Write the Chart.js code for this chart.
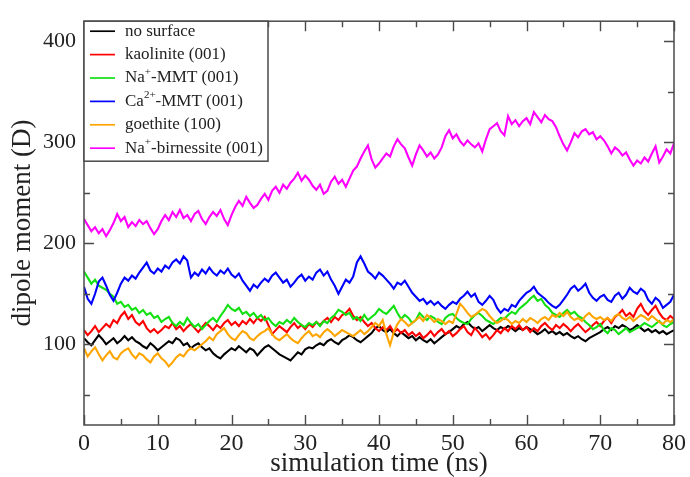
<!DOCTYPE html>
<html>
<head>
<meta charset="utf-8">
<script src="https://cdn.jsdelivr.net/npm/chart.js@4/dist/chart.umd.min.js"></script>
<style>
html,body{margin:0;padding:0;background:#fff;}
#wrap{width:690px;height:477px;position:relative;}
</style>
</head>
<body>
<div id="wrap"><canvas id="c" width="690" height="477"></canvas></div>
<script>
// ---- data (dipole moment in D, sampled every 0.5 ns from 0 to 80 ns) ----
const timeStep = 0.5;
const seriesLabels = ['no surface', 'kaolinite (001)', 'Na^{+}-MMT (001)', 'Ca^{2+}-MMT (001)', 'goethite (100)', 'Na^{+}-birnessite (001)'];
const seriesColors = ['#000000', '#ff0000', '#11e011', '#0000ff', '#ffa500', '#ff00ff'];
const xTicks = [0, 10, 20, 30, 40, 50, 60, 70, 80];
const xMinorTicks = [5, 15, 25, 35, 45, 55, 65, 75];
const yTicks = [100, 200, 300, 400];
const yMinorTicks = [50, 150, 250, 350];

const noSurface = [106,102,99,104,109,105,100,103,106,101,104,108,104,107,103,101,98,96,101,98,94,97,100,103,101,106,104,99,101,96,99,101,97,94,96,91,88,86,90,93,96,94,98,95,92,96,94,89,93,97,99,96,93,90,88,86,84,88,92,90,95,97,96,99,101,99,103,105,102,100,104,106,109,107,104,102,105,108,111,116,118,114,112,115,111,108,112,109,106,108,104,107,104,102,105,101,104,107,110,112,115,118,116,120,122,118,115,117,113,116,119,116,114,117,115,118,116,113,116,114,117,115,113,110,112,115,111,113,110,112,109,111,108,106,108,105,103,106,108,110,112,115,117,114,118,116,119,117,114,116,119,116,113,115,112,114,111,113,110,112,114];
const kaolinite = [114,109,113,118,112,116,120,117,124,121,128,132,125,129,122,119,123,116,112,115,111,114,118,116,121,115,118,113,117,120,116,112,117,121,118,114,119,116,121,124,119,122,118,123,120,125,121,126,123,127,119,110,114,118,115,112,117,121,116,119,115,120,117,122,119,123,126,122,127,124,129,131,135,128,124,127,122,118,121,116,113,117,114,118,112,115,111,114,109,112,108,111,106,109,113,108,112,115,110,113,108,111,115,118,112,109,116,112,107,110,105,109,114,111,116,113,118,115,119,114,117,112,116,113,118,121,117,114,119,116,120,117,113,117,120,116,112,115,119,122,118,123,126,121,127,130,134,128,131,127,135,140,133,129,134,138,131,126,124,128,125];
const naMMT = [172,166,160,164,158,156,154,150,147,140,142,137,139,134,136,131,134,129,131,126,128,122,125,127,121,118,122,119,126,121,117,120,115,119,123,126,122,128,133,139,135,133,136,130,132,128,131,126,129,124,126,121,118,122,120,124,121,126,122,119,117,121,119,122,118,123,121,126,129,134,132,129,131,125,127,123,129,124,127,130,135,132,130,134,138,131,125,129,126,121,124,131,127,124,128,126,122,120,126,129,130,126,123,121,120,125,129,131,128,124,122,120,123,126,125,129,132,130,135,138,141,145,148,143,145,139,136,131,129,127,131,134,130,132,128,126,122,119,115,117,120,114,111,116,114,110,113,116,112,114,116,118,121,119,117,120,123,119,117,120,122];
const caMMT = [157,145,140,150,162,166,158,149,143,151,160,166,163,168,165,171,176,181,173,170,175,172,178,175,181,184,180,187,183,166,171,168,174,170,176,171,168,173,170,175,169,166,170,163,158,153,159,156,161,165,162,168,171,166,161,164,157,161,166,169,163,167,164,171,174,168,172,164,158,150,157,164,161,167,181,187,180,172,169,165,171,168,164,160,155,161,159,163,157,151,147,143,145,140,143,139,142,138,135,139,142,140,145,148,152,147,150,142,139,143,148,144,136,131,135,133,139,137,143,147,151,153,157,151,148,145,141,138,136,139,144,149,155,158,153,156,160,151,146,143,147,149,144,142,148,151,145,149,156,152,150,155,152,144,140,146,143,136,139,142,149];
const goethite = [96,88,93,97,90,84,89,93,87,85,91,94,96,90,86,91,89,85,82,88,91,86,83,78,82,87,90,88,93,96,94,97,100,103,107,104,110,113,116,110,106,104,109,113,111,106,104,108,111,113,116,110,106,104,107,110,106,103,101,106,110,113,108,110,107,112,115,112,108,111,114,112,110,108,111,114,110,113,117,121,118,124,110,99,112,120,125,122,118,121,124,127,123,129,126,122,125,123,120,123,121,130,140,136,131,127,129,132,135,133,128,124,121,123,126,124,120,123,121,125,122,126,124,121,125,127,124,129,127,131,128,132,127,124,126,123,128,131,127,125,127,124,126,123,128,130,126,124,127,123,126,129,127,124,128,125,122,120,124,122,125];
const naBirnessite = [224,218,212,216,210,214,207,213,220,229,222,226,216,221,217,223,219,222,215,209,214,222,228,223,231,226,233,225,228,222,229,232,224,219,226,231,227,233,224,218,228,236,242,237,246,240,235,238,244,249,243,252,256,250,258,254,260,264,270,262,267,263,257,253,258,249,252,261,266,259,263,256,264,272,276,284,291,297,283,275,279,284,289,286,296,303,298,294,285,277,288,297,292,286,290,284,288,295,306,312,304,308,301,297,302,298,295,299,291,303,313,316,319,311,307,326,318,322,316,321,324,318,330,325,320,327,323,321,315,306,298,292,300,309,305,311,313,308,310,303,306,302,296,289,295,292,287,290,283,277,282,279,285,281,289,296,280,286,293,289,299];

const seriesValues = [noSurface, kaolinite, naMMT, caMMT, goethite, naBirnessite];

const FONT = "'Liberation Serif', 'Times New Roman', serif";
const AXIS_COLOR = '#4a4a4a';

function plainLabel(s) {
  return s.replace(/\^\{([^}]*)\}/g, (m, g) => g);
}

const datasets = seriesValues.map((vals, k) => ({
  label: plainLabel(seriesLabels[k]),
  data: vals.map((v, i) => ({ x: i * timeStep, y: v })),
  borderColor: seriesColors[k],
  backgroundColor: seriesColors[k],
  borderWidth: 2.1,
  pointRadius: 0,
  tension: 0,
  fill: false,
  order: seriesValues.length - k
}));

const framePlugin = {
  id: 'frameTicks',
  afterDatasetsDraw(chart) {
    const { ctx, chartArea: a, scales: { x, y } } = chart;
    ctx.save();
    ctx.strokeStyle = AXIS_COLOR;
    ctx.lineWidth = 1.5;
    ctx.strokeRect(a.left, a.top, a.right - a.left, a.bottom - a.top);
    ctx.beginPath();
    const xt = (vals, len) => vals.forEach(v => {
      const px = Math.round(x.getPixelForValue(v)) + 0.5;
      ctx.moveTo(px, a.bottom); ctx.lineTo(px, a.bottom - len);
      ctx.moveTo(px, a.top); ctx.lineTo(px, a.top + len);
    });
    const yt = (vals, len) => vals.forEach(v => {
      const py = Math.round(y.getPixelForValue(v)) + 0.5;
      ctx.moveTo(a.left, py); ctx.lineTo(a.left + len, py);
      ctx.moveTo(a.right, py); ctx.lineTo(a.right - len, py);
    });
    xt(xTicks, 10); xt(xMinorTicks, 6);
    yt(yTicks, 10); yt(yMinorTicks, 6);
    ctx.lineWidth = 1.4;
    ctx.strokeStyle = AXIS_COLOR;
    ctx.stroke();

    // legend
    const lx = a.left, ly = a.top, lw = 184, lh = 140;
    ctx.fillStyle = '#fff';
    ctx.fillRect(lx, ly, lw, lh);
    ctx.strokeStyle = AXIS_COLOR;
    ctx.lineWidth = 1.5;
    ctx.strokeRect(lx, ly, lw, lh);
    const fs = 17;
    chart.data.datasets.forEach((ds, k) => {
      const rowY = ly + 10 + k * 23.4;
      ctx.strokeStyle = ds.borderColor;
      ctx.lineWidth = 1.7;
      ctx.beginPath();
      ctx.moveTo(lx + 6, rowY); ctx.lineTo(lx + 31, rowY);
      ctx.stroke();
      ctx.fillStyle = '#222';
      ctx.textBaseline = 'middle';
      ctx.textAlign = 'left';
      let tx = lx + 41;
      const parts = seriesLabels[k].split(/(\^\{[^}]*\})/);
      parts.forEach(p => {
        if (!p) return;
        const m = p.match(/^\^\{([^}]*)\}$/);
        if (m) {
          ctx.font = `${Math.round(fs * 0.62)}px ${FONT}`;
          ctx.fillText(m[1], tx, rowY - 6);
          tx += ctx.measureText(m[1]).width;
        } else {
          ctx.font = `${fs}px ${FONT}`;
          ctx.fillText(p, tx, rowY);
          tx += ctx.measureText(p).width;
        }
      });
    });
    ctx.restore();
  }
};

new Chart(document.getElementById('c'), {
  type: 'line',
  data: { datasets },
  plugins: [framePlugin],
  options: {
    responsive: false,
    animation: false,
    events: [],
    layout: { padding: { left: 0, right: 13, top: 12, bottom: 0 } },
    plugins: { legend: { display: false }, tooltip: { enabled: false } },
    scales: {
      x: {
        type: 'linear', min: 0, max: 80,
        afterBuildTicks: s => { s.ticks = xTicks.map(v => ({ value: v })); },
        afterFit: s => { s.height = 52; },
        grid: { display: false, drawTicks: false },
        border: { display: false },
        ticks: { color: '#222', padding: 4, maxRotation: 0, font: { family: FONT, size: 24 } },
        title: { display: true, text: 'simulation time (ns)', color: '#222', padding: { top: 0, bottom: 0 }, font: { family: FONT, size: 27, lineHeight: 1 } }
      },
      y: {
        type: 'linear', min: 20, max: 420,
        afterBuildTicks: s => { s.ticks = yTicks.map(v => ({ value: v })); },
        afterFit: s => { s.width = 84; },
        grid: { display: false, drawTicks: false },
        border: { display: false },
        ticks: { color: '#222', padding: 8, font: { family: FONT, size: 22 } },
        title: { display: true, text: 'dipole moment (D)', color: '#222', padding: { top: 7, bottom: 0 }, font: { family: FONT, size: 27, lineHeight: 1.2 } }
      }
    }
  }
});
</script>
</body>
</html>
